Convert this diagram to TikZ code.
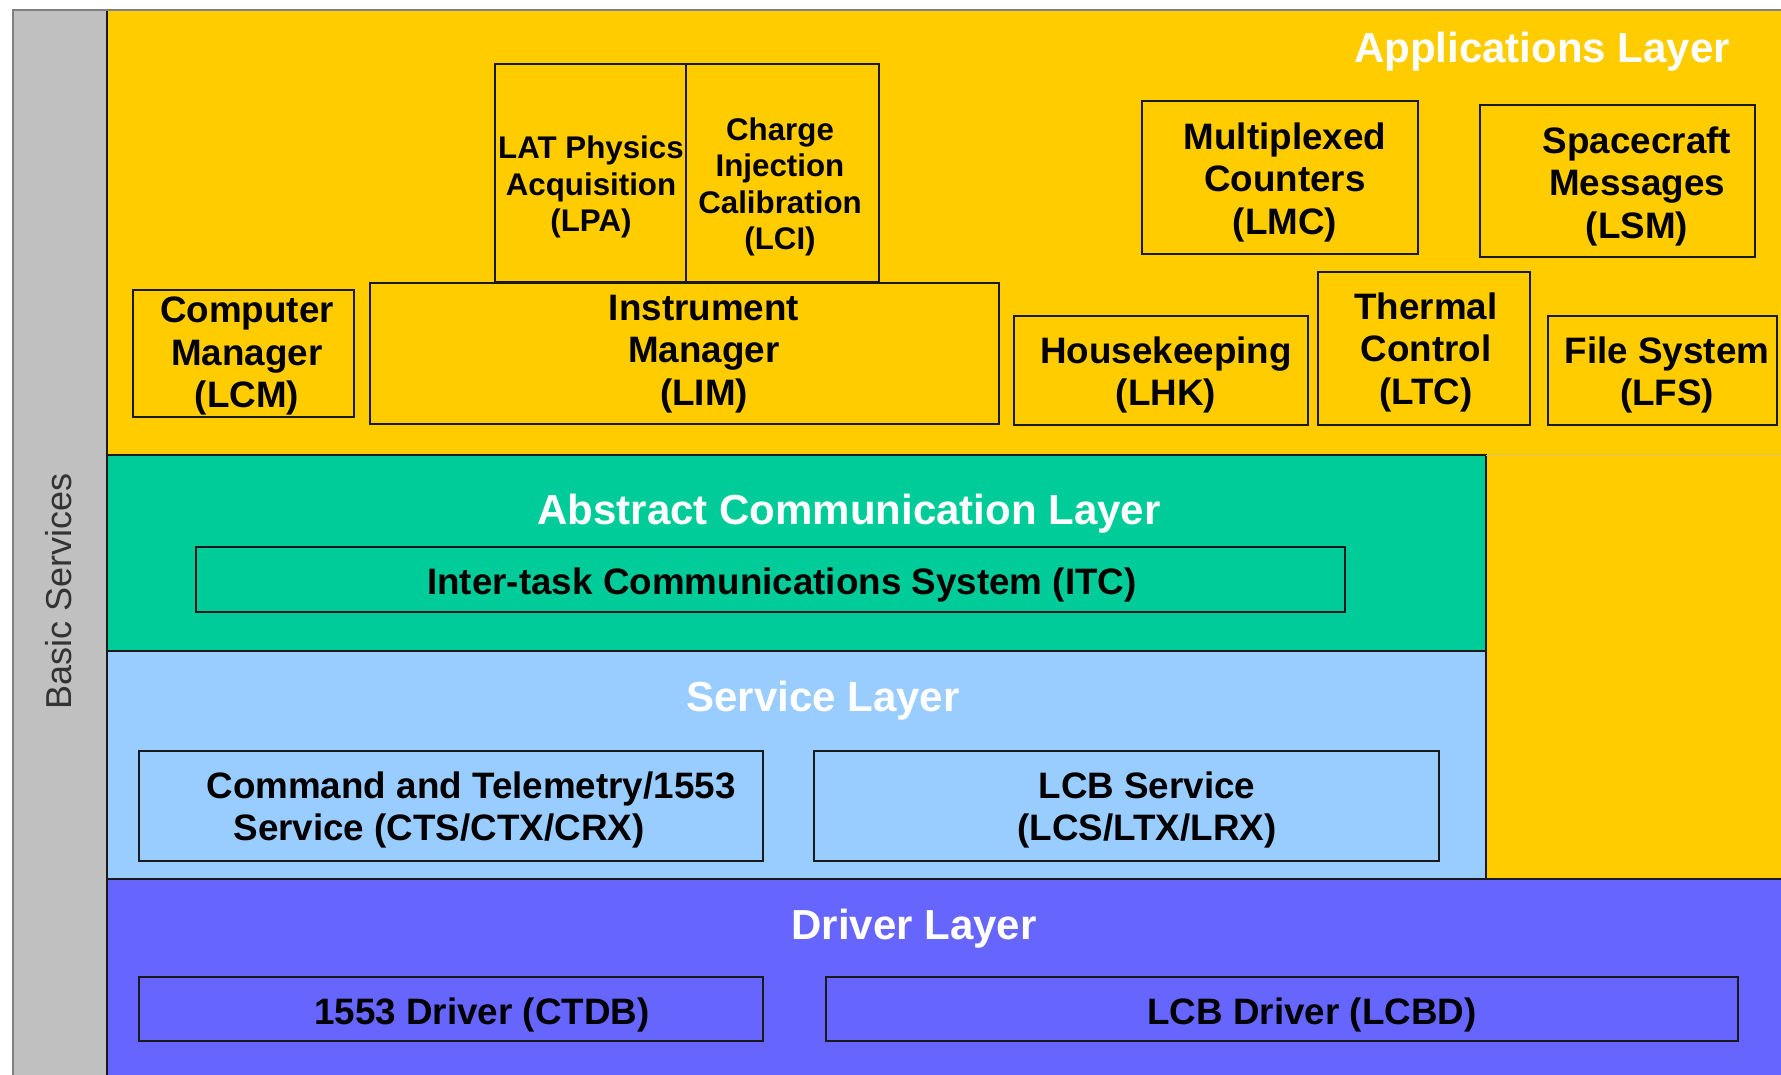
\documentclass[tikz,border=0pt]{standalone}
\usepackage{fontspec}
\setmainfont{Liberation Sans}
\usetikzlibrary{fit}

\definecolor{appyellow}{HTML}{FFCC00}
\definecolor{commgreen}{HTML}{00CC99}
\definecolor{servblue}{HTML}{99CCFF}
\definecolor{drvpurple}{HTML}{6666FF}
\definecolor{sidegray}{HTML}{C0C0C0}
\definecolor{edge}{HTML}{1A1A1A}
\definecolor{outerframe}{HTML}{808080}
\definecolor{sidetext}{HTML}{333333}
\definecolor{faintline}{HTML}{E0C468}

\tikzset{
  region/.style={draw=edge, line width=1.6pt},
  module/.style={draw=edge, line width=1.8pt, inner sep=0pt},
  modtext/.style={font=\bfseries\fontsize{36.8}{42.5}\selectfont, align=center, inner sep=0pt, text=black},
  smalltext/.style={font=\bfseries\fontsize{31.3}{36.5}\selectfont, align=center, inner sep=0pt, text=black},
  title/.style={font=\bfseries\fontsize{42}{50}\selectfont, text=white, inner sep=0pt, anchor=base},
}

\begin{document}
\begin{tikzpicture}[x=1pt,y=-1pt]
\useasboundingbox (0,0) rectangle (1781,1074);
\clip (0,0) rectangle (1781,1074);

% side bar for basic services
\fill[sidegray] (13,10) rectangle (107,1090);
\draw[outerframe, line width=2pt] (13,1090) -- (13,10) -- (1790,10);

% layers
\filldraw[fill=appyellow, region] (107,10) rectangle (1795,879);
\filldraw[fill=commgreen, region] (107,455) rectangle (1486,651);
\filldraw[fill=servblue, region] (107,651) rectangle (1486,879);
\filldraw[fill=drvpurple, region] (107,879) rectangle (1795,1090);
\draw[faintline, line width=1pt] (1486,455) -- (1790,455);
\draw[outerframe, line width=2pt] (13,10) -- (1790,10);

% layer titles
\node[title] (app-title) at (1542,62) {Applications Layer};
\node[title] (acl-title) at (849,524) {Abstract Communication Layer};
\node[title] (svc-title) at (823,711) {Service Layer};
\node[title] (drv-title) at (914,939) {Driver Layer};

\node[rotate=90, inner sep=0pt, font=\fontsize{36}{43}\selectfont, text=sidetext] (basic) at (59,591) {Basic Services};

% application modules
\node[module, fit={(495,64) (686,282)}] (lpa) {};
\node[module, fit={(686,64) (879,282)}] (lci) {};
\node[module, fit={(133,290) (354,417)}] (lcm) {};
\node[module, fit={(370,283) (999,424)}] (lim) {};
\node[module, fit={(1142,101) (1418,254)}] (lmc) {};
\node[module, fit={(1480,105) (1755,257)}] (lsm) {};
\node[module, fit={(1014,316) (1308,425)}] (lhk) {};
\node[module, fit={(1318,272) (1530,425)}] (ltc) {};
\node[module, fit={(1548,316) (1777,425)}] (lfs) {};

\node[smalltext] (lpa-t) at (591,187) {LAT Physics\\Acquisition\\(LPA)};
\node[smalltext] (lci-t) at (780,187) {Charge\\Injection\\Calibration\\(LCI)};
\node[modtext] (lcm-t) at (247,356) {Computer\\Manager\\(LCM)};
\node[modtext] (lim-t) at (704,354) {Instrument\\Manager\\(LIM)};
\node[modtext] (lmc-t) at (1285,182) {Multiplexed\\Counters\\(LMC)};
\node[modtext] (lsm-t) at (1637,186) {Spacecraft\\Messages\\(LSM)};
\node[modtext] (lhk-t) at (1166,375) {Housekeeping\\(LHK)};
\node[modtext] (ltc-t) at (1426,352) {Thermal\\Control\\(LTC)};
\node[modtext] (lfs-t) at (1667,375) {File System\\(LFS)};

% communication, service and driver modules
\node[module, fit={(196,547) (1345,612)}] (itc) {};
\node[module, fit={(139,751) (763,861)}] (cts) {};
\node[module, fit={(814,751) (1439,861)}] (lcs) {};
\node[module, fit={(139,977) (763,1041)}] (ctdb) {};
\node[module, fit={(826,977) (1738,1041)}] (lcbd) {};

\node[modtext, anchor=base] (itc-t) at (782,594) {Inter-task Communications System (ITC)};
\node[modtext] (cts-t) at (471,810) {Command and Telemetry/1553\\Service (CTS/CTX/CRX)\rule{64pt}{0pt}};
\node[modtext] (lcs-t) at (1147,810) {LCB Service\\(LCS/LTX/LRX)};
\node[modtext, anchor=base] (ctdb-t) at (482,1024) {1553 Driver (CTDB)};
\node[modtext, anchor=base] (lcbd-t) at (1312,1024) {LCB Driver (LCBD)};
\end{tikzpicture}
\end{document}
